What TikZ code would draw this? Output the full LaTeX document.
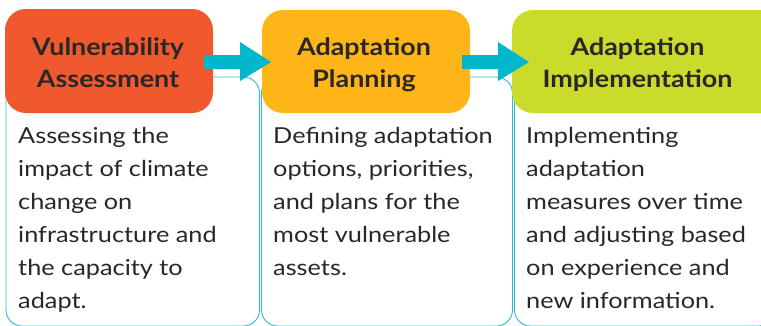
\documentclass[tikz,border=0pt]{standalone}
\usepackage{fontspec}
\setmainfont{Lato}
\newfontfamily\bodyfont{Lato}[FakeStretch=1.15]
\newfontfamily\headfont{Lato}[FakeStretch=1.12]
\definecolor{cardline}{HTML}{2CBDD0}
\definecolor{arrowc}{HTML}{00B7CB}
\definecolor{hred}{HTML}{F0582E}
\definecolor{hyellow}{HTML}{FDB517}
\definecolor{hlime}{HTML}{CBDB2B}
\definecolor{txt}{HTML}{2A2728}
\begin{document}
\begin{tikzpicture}[x=1pt,y=-1pt,
  card/.style={draw=cardline,line width=0.9pt,fill=white,rounded corners=16pt},
  header/.style={rounded corners=21pt},
  htext/.style={font=\headfont\fontsize{24}{32}\selectfont\bfseries,text=txt,align=center,inner sep=0pt,anchor=base},
  btext/.style={font=\bodyfont\fontsize{22}{33}\selectfont,text=txt,align=left,inner sep=0pt,anchor=base west},
  flow/.style={fill=arrowc}]
\useasboundingbox (0,0) rectangle (761,325);
\begin{scope}
\clip (0,0) rectangle (761,325);
% cards
\draw[card] (6,77) rectangle (259.5,326);
\draw[card] (261.5,77) rectangle (512.5,326);
\draw[card] (514.5,77) rectangle (775,326);
% headers
\fill[header,hred] (5,9) rectangle (213,113);
\fill[header,hyellow] (262,10) rectangle (470,113);
\fill[header,hlime] (512,10) rectangle (785,113);
% arrows
\fill[flow] (204,55) -- (240,55) -- (240,42) -- (271,62) -- (240,81) -- (240,69) -- (204,69) -- cycle;
\fill[flow] (462,55) -- (498,55) -- (498,42) -- (529,62) -- (498,81) -- (498,69) -- (462,69) -- cycle;
\end{scope}
\node[htext] (h1) at (108,87) {Vulnerability\\Assessment};
\node[htext] (h2) at (364,87) {Adaptation\\Planning};
\node[htext] (h3) at (637.5,87) {Adaptation\\Implementation};
\node[btext] (b1) at (18,308) {Assessing the\\impact of climate\\change on\\infrastructure and\\the capacity to\\adapt.};
\node[btext] (b2) at (273,275) {Defining adaptation\\options, priorities,\\and plans for the\\most vulnerable\\assets.};
\node[btext] (b3) at (526,308) {Implementing\\adaptation\\measures over time\\and adjusting based\\on experience and\\new information.};
\end{tikzpicture}
\end{document}
